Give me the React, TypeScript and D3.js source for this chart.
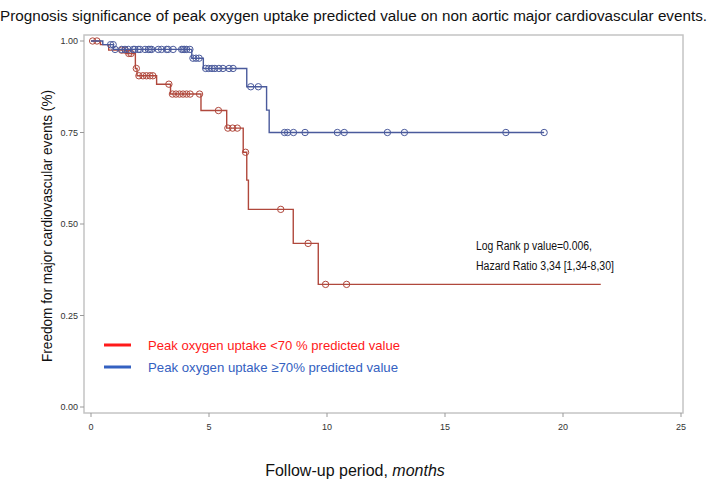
import { useEffect } from "react";
import * as d3 from "d3";

// x ticks and y ticks
const xTicks = [0, 5, 10, 15, 20, 25];
const yTicks = [0, 0.25, 0.5, 0.75, 1.0];

// Kaplan-Meier steps, peak VO2 < 70 % predicted
const redEventTimes = [0.4, 0.75, 1.5, 1.88, 1.95, 2.78, 3.37, 4.66, 5.75, 6.45, 6.6, 6.67, 8.57, 9.63];
const redSurvival = [0.99, 0.975, 0.966, 0.925, 0.905, 0.882, 0.855, 0.81, 0.762, 0.696, 0.62, 0.54, 0.447, 0.335];
const redEnd = 21.6;
const redCensored = [
  0.07, 0.25, 1.3, 1.45, 1.6, 1.7, 1.92, 2.03, 2.2, 2.35, 2.5, 2.62, 3.3, 3.45, 3.6, 3.75, 3.9,
  4.05, 4.2, 4.6, 5.4, 5.8, 6.0, 6.2, 6.55, 8.04, 9.2, 9.94, 10.83,
];

// Kaplan-Meier steps, peak VO2 >= 70 % predicted
const blueEventTimes = [0.5, 0.95, 4.27, 4.76, 6.6, 7.44, 7.55];
const blueSurvival = [0.99, 0.977, 0.953, 0.925, 0.875, 0.811, 0.75];
const blueEnd = 19.2;
const blueCensored = [
  0.83, 0.94, 1.02, 1.3, 1.44, 1.58, 1.79, 1.86, 2.0, 2.08, 2.29, 2.43, 2.5, 2.57, 2.85, 2.99,
  3.2, 3.27, 3.48, 3.84, 3.9, 3.97, 4.05, 4.19, 4.32, 4.45, 4.58, 4.86, 4.99, 5.13, 5.25, 5.42,
  5.59, 5.85, 6.02, 6.77, 7.09, 8.2, 8.33, 8.58, 9.07, 10.44, 10.73, 12.56, 13.28, 17.58, 19.2,
];

const legendLabels = ["Peak oxygen uptake <70 % predicted value", "Peak oxygen uptake \u226570% predicted value"];
const stats = ["Log Rank p value=0.006,", "Hazard Ratio 3,34 [1,34-8,30]"];

const W = 709;
const H = 483;
const FRAME = { left: 84, top: 35, right: 683, bottom: 413 };
const FONT = "'Liberation Sans', Arial, sans-serif";

type Pt = { t: number; s: number };

function stepPoints(times: number[], surv: number[], end: number): Pt[] {
  const pts: Pt[] = [{ t: 0, s: 1 }];
  times.forEach((t, i) => pts.push({ t, s: surv[i] }));
  pts.push({ t: end, s: surv[surv.length - 1] });
  return pts;
}

function survAt(times: number[], surv: number[], t: number) {
  let s = 1;
  times.forEach((et, i) => {
    if (et <= t) s = surv[i];
  });
  return s;
}

export default function App() {
  useEffect(() => {
    document.body.style.margin = "0";
  }, []);

  const x = d3.scaleLinear().domain([0, 25]).range([91, 681]);
  const y = d3.scaleLinear().domain([0, 1]).range([407, 41]);

  const line = d3
    .line<Pt>()
    .x((d) => x(d.t))
    .y((d) => y(d.s))
    .curve(d3.curveStepAfter);

  const series = [
    {
      color: "#b0483c",
      legend: "#ff1a1a",
      pts: stepPoints(redEventTimes, redSurvival, redEnd),
      cens: redCensored.map((t) => ({ t, s: survAt(redEventTimes, redSurvival, t) })),
    },
    {
      color: "#4a5a9c",
      legend: "#3461c1",
      pts: stepPoints(blueEventTimes, blueSurvival, blueEnd),
      cens: blueCensored.map((t) => ({ t, s: survAt(blueEventTimes, blueSurvival, t) })),
    },
  ];

  return (
    <svg width={W} height={H} style={{ display: "block", background: "#fff" }}>
      <text x={0} y={21} fontFamily={FONT} fontSize={14} fill="#111" textLength={707} lengthAdjust="spacingAndGlyphs">
        Prognosis significance of peak oxygen uptake predicted value on non aortic major cardiovascular events.
      </text>

      {/* frame */}
      <rect
        x={FRAME.left}
        y={FRAME.top}
        width={FRAME.right - FRAME.left}
        height={FRAME.bottom - FRAME.top}
        fill="none"
        stroke="#c4c4c4"
        strokeWidth={1.5}
      />

      {/* y axis ticks */}
      {yTicks.map((v) => (
        <g key={v}>
          <line x1={FRAME.left - 4} x2={FRAME.left} y1={y(v)} y2={y(v)} stroke="#999" />
          <text x={FRAME.left - 6} y={y(v)} dy="0.35em" textAnchor="end" fontFamily={FONT} fontSize={9} fill="#333">
            {v.toFixed(2)}
          </text>
        </g>
      ))}

      {/* x axis ticks */}
      {xTicks.map((v) => (
        <g key={v}>
          <line x1={x(v)} x2={x(v)} y1={FRAME.bottom} y2={FRAME.bottom + 4} stroke="#999" />
          <text x={x(v)} y={430} textAnchor="middle" fontFamily={FONT} fontSize={9} fill="#333">
            {v}
          </text>
        </g>
      ))}

      {/* curves */}
      {series.map((sr, i) => (
        <g key={i}>
          <path d={line(sr.pts) ?? ""} fill="none" stroke={sr.color} strokeWidth={1.4} />
          {sr.cens.map((c, j) => (
            <circle key={j} cx={x(c.t)} cy={y(c.s)} r={3.2} fill="none" stroke={sr.color} strokeWidth={1} />
          ))}
        </g>
      ))}

      {/* stats annotation */}
      {stats.map((s, i) => (
        <text key={s} x={476} y={250 + i * 20} fontFamily={FONT} fontSize={12.5} fill="#111" textLength={i === 0 ? 116 : 138} lengthAdjust="spacingAndGlyphs">
          {s}
        </text>
      ))}

      {/* legend */}
      {series.map((sr, i) => (
        <g key={i}>
          <line x1={104} x2={131} y1={345 + i * 22} y2={345 + i * 22} stroke={sr.legend} strokeWidth={3} />
          <text
            x={148}
            y={345 + i * 22}
            dy="0.35em"
            fontFamily={FONT}
            fontSize={13}
            fill={sr.legend}
            textLength={i === 0 ? 252 : 250}
            lengthAdjust="spacingAndGlyphs"
          >
            {legendLabels[i]}
          </text>
        </g>
      ))}

      {/* axis titles */}
      <text
        transform="translate(52,226) rotate(-90)"
        textAnchor="middle"
        fontFamily={FONT}
        fontSize={15}
        fill="#111"
        textLength={272}
        lengthAdjust="spacingAndGlyphs"
      >
        Freedom for major cardiovascular  events (%)
      </text>
      <text x={355} y={476} textAnchor="middle" fontFamily={FONT} fontSize={16} fill="#111">
        Follow-up period, <tspan fontStyle="italic">months</tspan>
      </text>
    </svg>
  );
}
